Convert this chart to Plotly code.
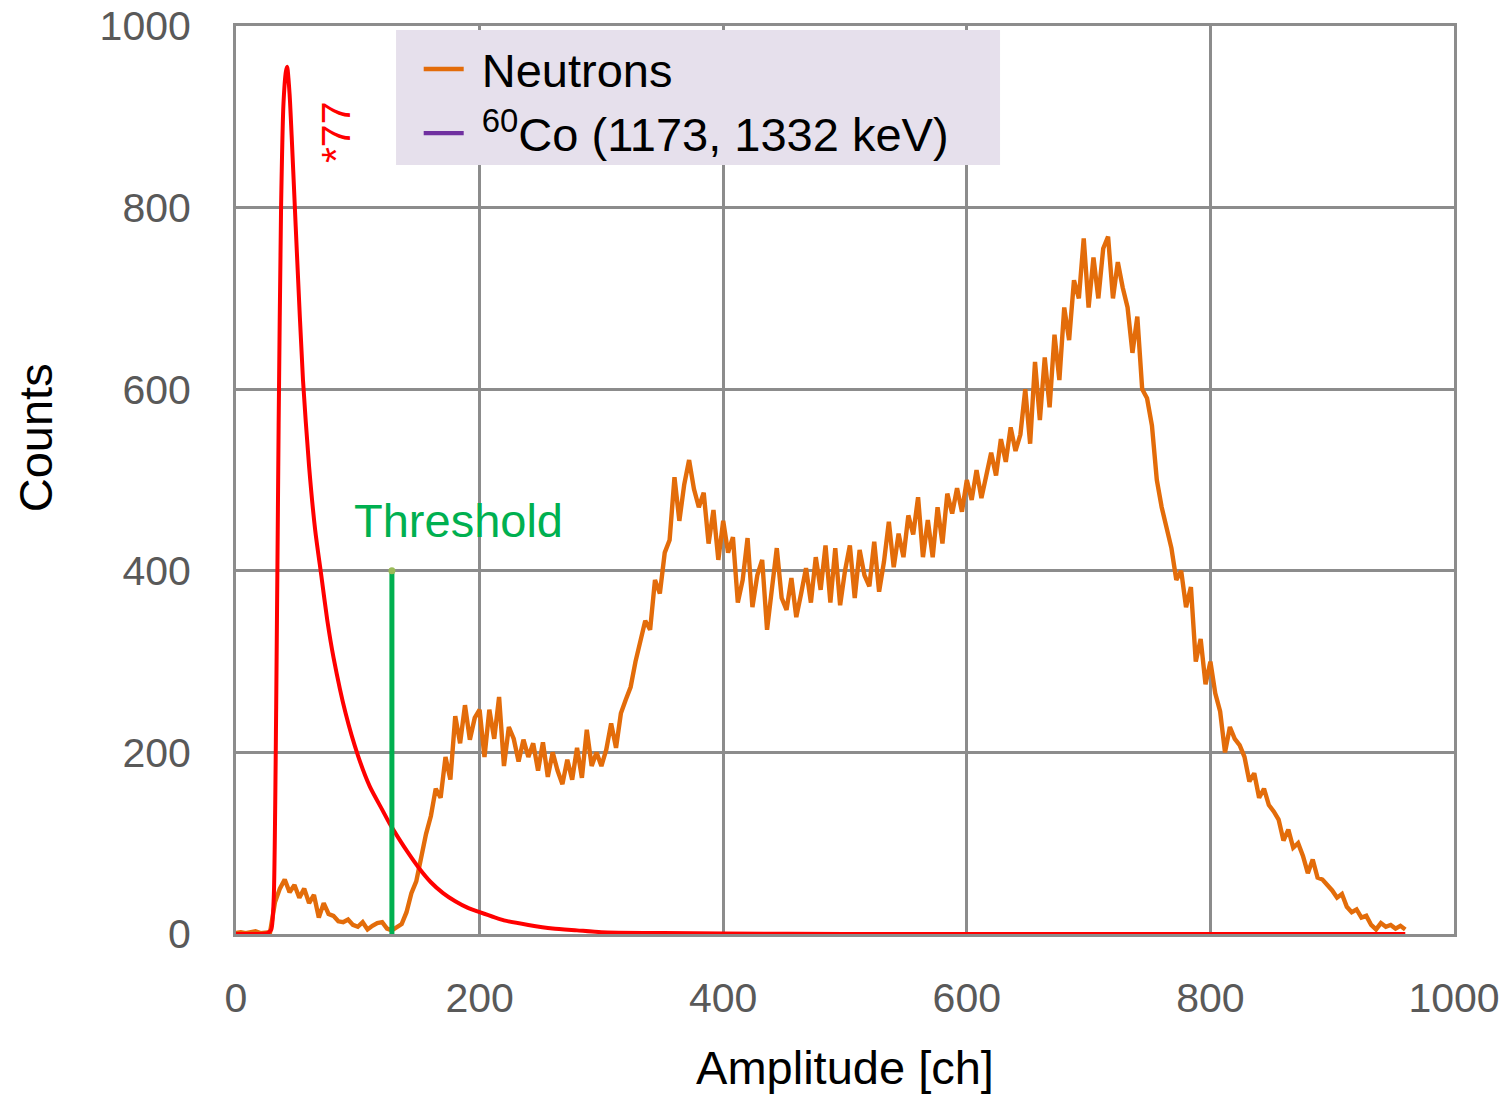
import plotly.graph_objects as go

# ---------------- data ----------------
neutron_ch = list(range(0, 961, 4))
neutron_counts = [
    1, 2, 1, 2, 3, 1, 2, 2, 35, 50, 60, 46, 54, 40, 50, 34, 43, 18, 34, 22,
    20, 14, 13, 16, 10, 8, 13, 5, 9, 12, 13, 6, 4, 8, 11, 24, 45, 58, 85, 110,
    130, 160, 150, 195, 170, 240, 210, 252, 214, 238, 247, 195, 247, 215, 261, 185, 228, 215, 190, 214,
    195, 210, 180, 211, 173, 200, 180, 165, 192, 170, 205, 172, 225, 185, 200, 185, 203, 232, 205, 243,
    258, 272, 300, 324, 345, 335, 390, 375, 420, 434, 503, 455, 495, 522, 490, 470, 486, 430, 467, 412,
    455, 420, 437, 365, 390, 436, 360, 395, 412, 335, 385, 425, 370, 357, 392, 349, 375, 403, 365, 415,
    379, 428, 365, 425, 362, 400, 428, 370, 423, 395, 383, 432, 377, 410, 454, 404, 441, 415, 461, 440,
    481, 415, 456, 415, 470, 430, 485, 463, 491, 465, 500, 478, 511, 480, 505, 530, 505, 545, 520, 558,
    532, 550, 600, 540, 630, 566, 635, 580, 660, 610, 690, 654, 720, 700, 766, 690, 745, 700, 755, 768,
    700, 740, 712, 690, 640, 680, 600, 590, 560, 500, 470, 445, 425, 390, 400, 360, 382, 300, 325, 275,
    300, 265, 245, 200, 228, 215, 208, 195, 168, 177, 150, 160, 142, 135, 126, 103, 115, 95, 100, 86,
    67, 82, 62, 60, 54, 48, 40, 44, 30, 24, 27, 18, 20, 10, 5, 12, 8, 10, 6, 9,
    5,
]

co60_ch = [0, 10, 20, 26, 29, 31, 33, 35, 37, 39, 41, 42, 44, 46, 48, 50, 55, 60, 65, 70,
           75, 80, 90, 100, 110, 120, 126, 130, 140, 150, 160, 170, 180, 190, 200, 220, 240,
           260, 280, 300, 350, 400, 500, 700, 960]
co60_counts = [0, 0, 0, 1, 5, 40, 250, 560, 800, 915, 950, 955, 925, 870, 810, 750, 610, 515, 445, 395,
               345, 305, 243, 197, 162, 137, 122, 113, 92, 73, 57, 45, 36, 29, 24, 15, 10,
               6, 4, 2, 1, 0.5, 0, 0, 0]

threshold_ch = 128
threshold_level = 400

x_ticks = [0, 200, 400, 600, 800, 1000]
y_ticks = [0, 200, 400, 600, 800, 1000]

# ---------------- colours ----------------
ORANGE = "#E36C0A"
PURPLE = "#7030A0"
RED = "#FF0000"
GREEN = "#00B050"
GRID = "#8C8C8C"
TICK = "#595959"
LEGEND_BG = "#E6E0EC"
FONT = "Liberation Sans, Arial, sans-serif"

fig = go.Figure()

fig.add_trace(go.Scatter(
    x=neutron_ch, y=neutron_counts, mode="lines", name="\u00a0Neutrons",
    line=dict(color=ORANGE, width=4.4),
))
fig.add_trace(go.Scatter(
    x=[None], y=[None], mode="lines", name="\u00a0<sup>60</sup>Co (1173, 1332 keV)",
    line=dict(color=PURPLE, width=4.4),
))
fig.add_trace(go.Scatter(
    x=co60_ch, y=co60_counts, mode="lines", showlegend=False,
    line=dict(color=RED, width=4, shape="spline", smoothing=0.6),
))
fig.add_trace(go.Scatter(
    x=[threshold_ch, threshold_ch], y=[-4, threshold_level], mode="lines", showlegend=False,
    line=dict(color=GREEN, width=5),
))
fig.add_trace(go.Scatter(
    x=[threshold_ch], y=[threshold_level], mode="markers", showlegend=False,
    marker=dict(color="#9BBB59", size=7),
))

fig.add_annotation(x=95, y=455, xref="x", yref="y", text="Threshold", showarrow=False,
                   xanchor="left", yanchor="middle",
                   font=dict(family=FONT, size=47, color=GREEN))
fig.add_annotation(x=82, y=883, xref="x", yref="y", text="*77", showarrow=False,
                   textangle=-90, xanchor="center", yanchor="middle",
                   font=dict(family=FONT, size=41, color=RED))
# y-axis title (placed as in the reference, slightly above centre)
fig.add_annotation(x=-0.165, y=0.546, xref="paper", yref="paper", text="Counts",
                   showarrow=False, textangle=-90, xanchor="center", yanchor="middle",
                   font=dict(family=FONT, size=47, color="black"))

# legend background box (covers the grid like the reference)
fig.add_shape(type="rect", xref="paper", yref="paper",
              x0=0.1314, x1=0.6273, y0=0.8469, y1=0.9956,
              fillcolor=LEGEND_BG, line=dict(width=0), layer="above")

axis_common = dict(
    showgrid=True, gridcolor=GRID, gridwidth=3,
    showline=True, linecolor=GRID, linewidth=3, mirror=True,
    zeroline=False, ticks="", automargin=False,
    tickfont=dict(family=FONT, size=41, color=TICK),
)

fig.update_xaxes(range=[0, 1000], tickvals=x_ticks, ticklabelstandoff=26,
                 title=dict(text="Amplitude [ch]", standoff=31,
                            font=dict(family=FONT, size=47, color="black")),
                 **axis_common)
fig.update_yaxes(range=[0, 1000], tickvals=y_ticks, ticklabelstandoff=34,
                 **axis_common)

fig.update_layout(
    width=1512, height=1094,
    margin=dict(l=236, r=58, t=26, b=160),
    plot_bgcolor="white", paper_bgcolor="white",
    font=dict(family=FONT),
    legend=dict(x=0.150, y=0.9934, xanchor="left", yanchor="top",
                bgcolor="rgba(0,0,0,0)", borderwidth=0,
                font=dict(family=FONT, size=47, color="black"),
                itemwidth=40, tracegroupgap=0),
)

fig.write_html("out.html")
